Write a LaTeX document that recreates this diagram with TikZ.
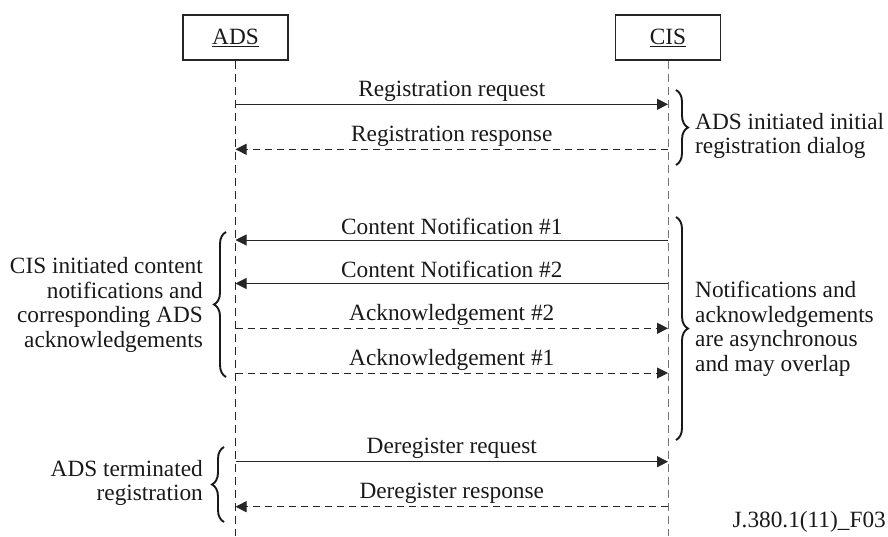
\documentclass[tikz,border=0pt]{standalone}
\usepackage{fontspec}
\setmainfont{Liberation Serif}
\usetikzlibrary{arrows.meta,decorations.pathreplacing}
\begin{document}
\begin{tikzpicture}[x=1pt,y=-1pt,
  every node/.style={font=\fontsize{23.3}{24.5}\selectfont, inner sep=0pt, text=black!90},
  actor/.style={draw=black!85, line width=1.2pt, minimum width=105pt, minimum height=45pt},
  life/.style={dash pattern=on 8pt off 5pt, line width=1pt},
  msg/.style={line width=1pt, draw=black!85, -{Triangle[length=11pt,width=11pt]}},
  reply/.style={msg, dash pattern=on 7pt off 5pt},
  lbl/.style={anchor=base},
  brc/.style={decorate, decoration={brace, amplitude=12pt}, line width=1.9pt, draw=black!90},
  rnote/.style={align=left, anchor=west},
  lnote/.style={align=right, anchor=east}]
\useasboundingbox (0,0) rectangle (888,536);

% actors
\node[actor] (ads) at (235.5,37.5) {\underline{ADS}};
\node[actor] (cis) at (668,37.5) {\underline{CIS}};
\coordinate (adsend) at (235.5,536);
\coordinate (cisend) at (668,536);
\draw[life, draw=black!85] (ads.south) -- (adsend);
\draw[life, draw=black!55] (cis.south) -- (cisend);

% message end points
\foreach \n/\y in {1/104.3,2/149.3,3/240,4/283.5,5/328.3,6/373,7/461.7,8/506.7}{
  \coordinate (a\n) at (235.5,\y);
  \coordinate (c\n) at (668,\y);
}

% messages
\draw[msg] (a1) -- node[lbl, yshift=8pt] (m1) {Registration request} (c1);
\draw[reply] (c2) -- node[lbl, yshift=8pt] (m2) {Registration response} (a2);
\draw[msg] (c3) -- node[lbl, yshift=6pt] (m3) {Content Notification \#1} (a3);
\draw[msg] (c4) -- node[lbl, yshift=6pt] (m4) {Content Notification \#2} (a4);
\draw[reply] (a5) -- node[lbl, yshift=8pt] (m5) {Acknowledgement \#2} (c5);
\draw[reply] (a6) -- node[lbl, yshift=8pt] (m6) {Acknowledgement \#1} (c6);
\draw[msg] (a7) -- node[lbl, yshift=8pt] (m7) {Deregister request} (c7);
\draw[reply] (c8) -- node[lbl, yshift=8pt] (m8) {Deregister response} (a8);

% braces
\coordinate (b1t) at (676,90);   \coordinate (b1b) at (676,165);
\coordinate (b2t) at (676,217);  \coordinate (b2b) at (676,440);
\coordinate (b3t) at (226,232);  \coordinate (b3b) at (226,377);
\coordinate (b4t) at (224,447);  \coordinate (b4b) at (224,522);
\draw[brc] (b1t) -- (b1b);
\draw[brc] (b2t) -- (b2b);
\draw[brc] (b3b) -- (b3t);
\draw[brc] (b4b) -- (b4t);

\node[rnote] (n1) at (695,136) {ADS initiated initial\\registration dialog};
\node[rnote] (n2) at (695,329) {Notifications and\\acknowledgements\\are asynchronous\\and may overlap};
\node[lnote] (n3) at (203,305) {CIS initiated content\\notifications and\\corresponding ADS\\acknowledgements};
\node[lnote] (n4) at (203,483) {ADS terminated\\registration};

\node[anchor=east] (fig) at (886,522) {J.380.1(11)\_F03};
\end{tikzpicture}
\end{document}
